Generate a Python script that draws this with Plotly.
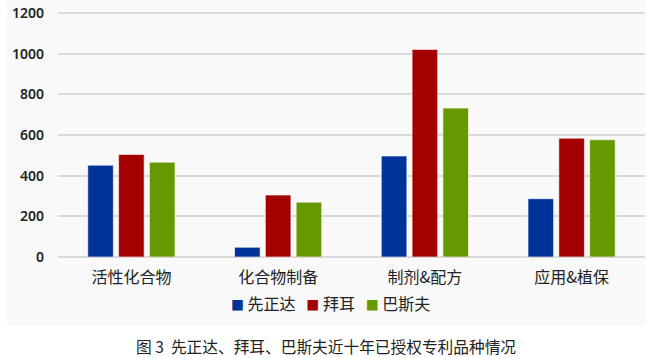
import plotly.graph_objects as go

categories = ["活性化合物", "化合物制备", "制剂&配方", "应用&植保"]
syngenta = [452, 48, 497, 287]
bayer = [505, 305, 1022, 585]
basf = [467, 270, 733, 577]
series_names = ["先正达", "拜耳", "巴斯夫"]
colors = ["#003399", "#A50000", "#669900"]
y_ticks = [0, 200, 400, 600, 800, 1000, 1200]
caption = "图 3  先正达、拜耳、巴斯夫近十年已授权专利品种情况"

font = "Noto Sans CJK SC"
fig = go.Figure()
for name, vals, c in zip(series_names, [syngenta, bayer, basf], colors):
    fig.add_trace(go.Bar(x=categories, y=vals, name=name, marker_color=c,
                         marker_line=dict(color="rgba(255,255,255,0.6)", width=1),
                         showlegend=False))

W, H = 655, 358
l, r, t, b = 58, 655 - 645, 12, 358 - 257
pw, ph = W - l - r, H - t - b

def px_x(x):
    return (x - l) / pw

def px_y(y):
    return (H - b - y) / ph

legend_html = "   ".join(
    f'<span style="color:{c};font-size:13px">■</span> {n}' for n, c in zip(series_names, colors)
)

fig.update_layout(
    width=W, height=H,
    margin=dict(l=l, r=r, t=t, b=b, autoexpand=False),
    paper_bgcolor="white", plot_bgcolor="rgba(0,0,0,0)",
    barmode="group", bargap=0.37, bargroupgap=0.17,
    font=dict(family=font, color="#222222"),
    showlegend=False,
    xaxis=dict(tickfont=dict(size=16, family=font, color="#222"), showgrid=False,
               showline=False, ticks="", ticklabelstandoff=9),
    yaxis=dict(range=[0, 1206], tickvals=y_ticks, showgrid=True, gridcolor="#d9d9d9",
               gridwidth=1.5, zeroline=True, zerolinecolor="#d9d9d9", zerolinewidth=1.5,
               tickfont=dict(size=14, family="Noto Sans", color="#222", weight=600),
               ticklabelstandoff=13, ticklabeloverflow="allow"),
    shapes=[dict(type="rect", xref="paper", yref="paper",
                 x0=px_x(7), x1=px_x(645), y0=px_y(326), y1=px_y(0),
                 fillcolor="#f9f9f9", line=dict(width=0), layer="below")],
    annotations=[
        dict(text=legend_html, xref="paper", yref="paper", x=px_x(330), xanchor="center",
             y=px_y(303), yanchor="middle", showarrow=False,
             font=dict(size=16, family=font, color="#222")),
        dict(text=caption, xref="paper", yref="paper", x=px_x(326), xanchor="center",
             y=px_y(346), yanchor="middle", showarrow=False,
             font=dict(size=15.7, family=font, color="#222")),
    ],
)
fig.write_html("out.html", config={"displayModeBar": False},
               post_script="document.body.style.margin='0';")
